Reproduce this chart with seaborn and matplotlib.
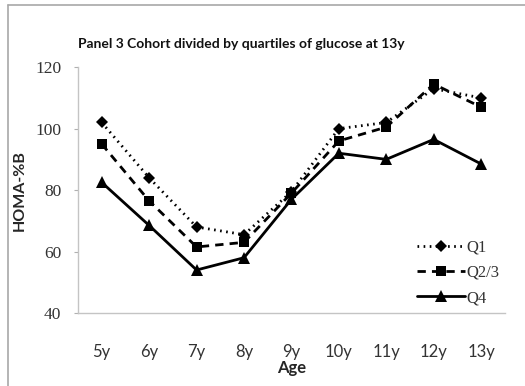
import matplotlib
matplotlib.use("Agg")
import matplotlib.pyplot as plt
from matplotlib.lines import Line2D
import seaborn as sns
import pandas as pd

# HOMA-%B by age, cohort split by quartiles of glucose at 13y
ages = ["5y", "6y", "7y", "8y", "9y", "10y", "11y", "12y", "13y"]
q1 = [102, 84, 68, 65.5, 79.5, 100, 102, 113, 110]
q23 = [95, 76.5, 61.5, 63, 79, 96, 100.5, 114.5, 107]
q4 = [82.5, 68.5, 54, 58, 77, 92, 90, 96.5, 88.5]
groups = ["Q1", "Q2/3", "Q4"]
yticks = [40, 60, 80, 100, 120]

df = pd.DataFrame({
    "Age": ages * 3,
    "HOMA-%B": q1 + q23 + q4,
    "Group": [g for g in groups for _ in ages],
})

sns.set_theme(style="white")
fig = plt.figure(figsize=(5.25, 3.86), dpi=100)
ax = fig.add_axes([0.1486, 0.189, 0.813, 0.637])

markers = {"Q1": "D", "Q2/3": "s", "Q4": "^"}
dashes = {"Q1": (0.6, 1.6), "Q2/3": (3.0, 2.2), "Q4": ""}
sizes = {"Q1": 6.5, "Q2/3": 7.5, "Q4": 8.5}

sns.lineplot(data=df, x="Age", y="HOMA-%B", style="Group",
             markers=markers, dashes=dashes, color="black",
             linewidth=2.0, markersize=8, markeredgewidth=0,
             legend=False, ax=ax, sort=False)
for line, g in zip(ax.lines, groups):
    line.set_markersize(sizes[g])

ax.set_xlim(-0.5, len(ages) - 0.5)
ax.set_ylim(40, 120)
ax.set_yticks(yticks)
ax.set_yticklabels([str(v) for v in yticks],
                   fontfamily="Liberation Serif", fontsize=12.5, color="#333333")
ax.set_xticks(range(len(ages)))
ax.set_xticklabels(ages, fontfamily="Lato", fontsize=12, color="#333333")
ax.tick_params(axis="y", which="major", length=3, width=0.8, color="#b0b0b0",
               direction="out", left=True, pad=9)
ax.tick_params(axis="x", length=0, pad=22)

for s in ["top", "right"]:
    ax.spines[s].set_visible(False)
for s in ["left", "bottom"]:
    ax.spines[s].set_color("#c4c4c4")
    ax.spines[s].set_linewidth(1.0)

ax.set_xlabel("Age", fontfamily="Lato", fontweight="bold", fontsize=12,
              labelpad=0)
ax.set_ylabel("HOMA-%B", fontfamily="Lato", fontweight="bold", fontsize=11.5,
              labelpad=6)

fig.text(0.1486, 0.875, "Panel 3 Cohort divided by quartiles of glucose at 13y",
         fontfamily="Lato", fontweight="bold", fontsize=10, color="#111111")

handles = [Line2D([], [], color="black", linewidth=2.0,
                  dashes=(dashes[g] if dashes[g] else (None, None)),
                  linestyle="-" if not dashes[g] else "--",
                  marker=markers[g], markersize=sizes[g], markeredgewidth=0)
           for g in groups]
handles[2].set_linestyle("-")
leg = fig.legend(handles, groups, loc="center left",
                 bbox_to_anchor=(0.765, 0.293), frameon=False,
                 prop={"family": "Liberation Serif", "size": 12},
                 handlelength=2.9, handletextpad=0.1, labelspacing=0.55)
for t in leg.get_texts():
    t.set_color("#333333")

# frame around the panel
fig.add_artist(Line2D([8 / 525, 1.0], [1 - 5 / 386, 1 - 5 / 386],
                      transform=fig.transFigure, color="#a8a8a8", linewidth=1.2))
fig.add_artist(Line2D([8 / 525, 8 / 525], [0.0, 1 - 5 / 386],
                      transform=fig.transFigure, color="#a8a8a8", linewidth=1.2))

fig.savefig("out.png", dpi=100, facecolor="white")
